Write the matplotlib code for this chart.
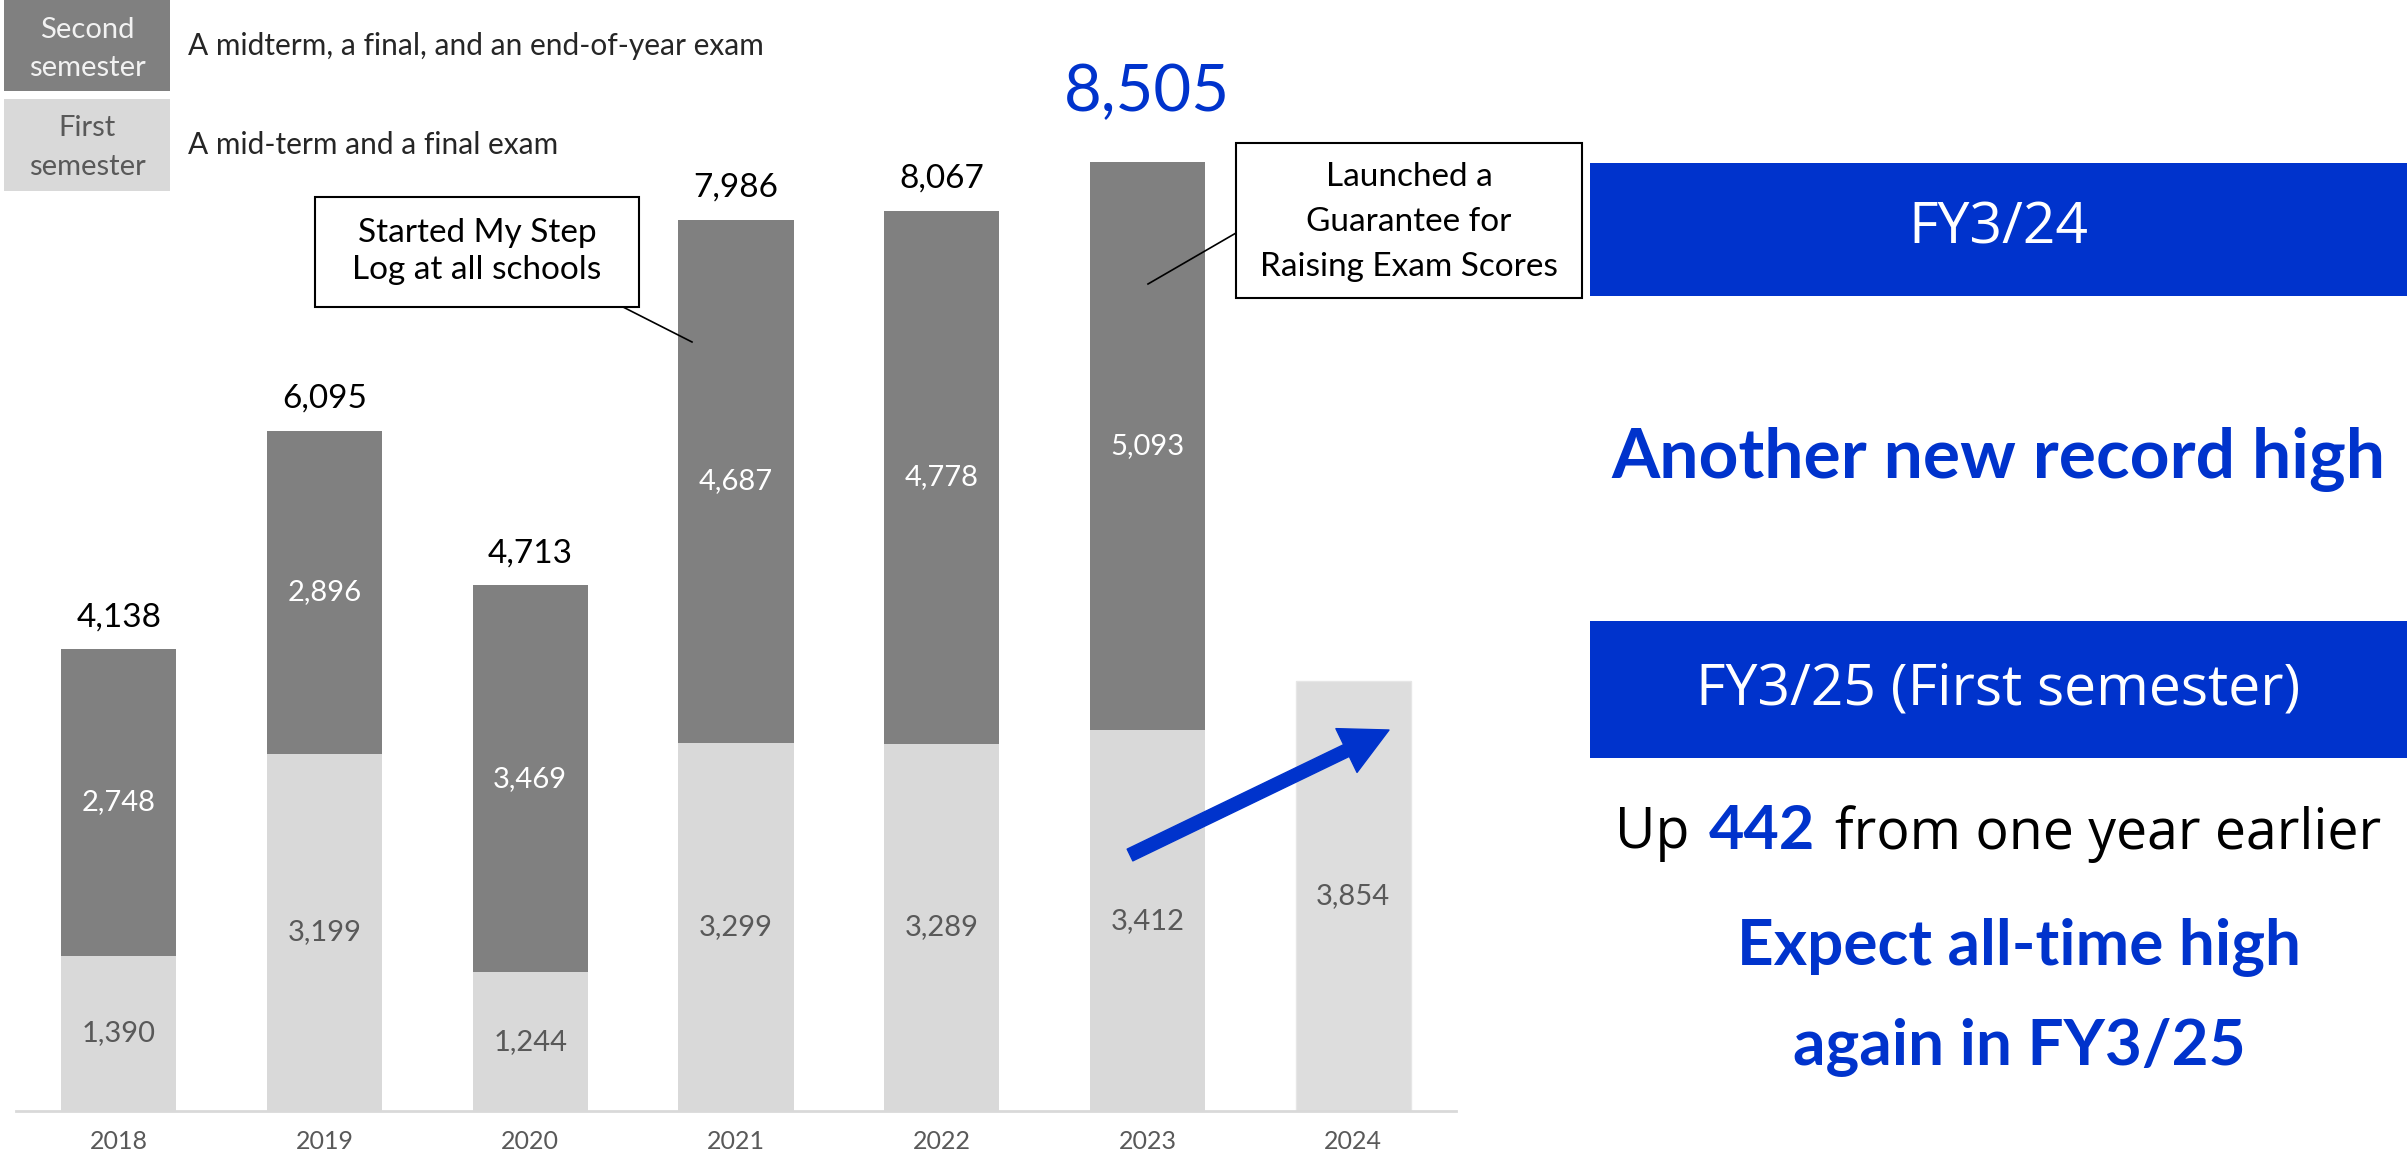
import numpy as np
import matplotlib.pyplot as plt
from matplotlib.patches import Rectangle, FancyArrowPatch
from matplotlib.lines import Line2D

# data
years = ['2018', '2019', '2020', '2021', '2022', '2023', '2024']
first_sem = [1390, 3199, 1244, 3299, 3289, 3412, 3854]
second_sem = [2748, 2896, 3469, 4687, 4778, 5093]   # 2024 only first semester
totals = [4138, 6095, 4713, 7986, 8067, 8505]

DARK = '#808080'
LIGHT = '#d9d9d9'
BLUE = '#0033cc'
TXT = '#595959'

plt.rcParams['font.family'] = ['Lato', 'DejaVu Sans']

W, H = 2407, 1161
fig = plt.figure(figsize=(W / 100, H / 100), dpi=100)


def fx(px):
    return px / W


def fy(py):
    return 1 - py / H


def ftext(px, py, s, **kw):
    kw.setdefault('ha', 'center')
    kw.setdefault('va', 'center')
    return fig.text(fx(px), fy(py), s, **kw)


def frect(x0, y0, x1, y1, **kw):
    r = Rectangle((fx(x0), fy(y1)), fx(x1) - fx(x0), fy(y0) - fy(y1),
                  transform=fig.transFigure, **kw)
    fig.add_artist(r)
    return r


# ---- bar chart ----
ax = fig.add_axes([fx(16), fy(1111), fx(1456) - fx(16), 1111 / H])
x = np.arange(len(years))
n2 = len(second_sem)
bar_w = 0.56
ax.bar(x[:n2], first_sem[:n2], width=bar_w, color=LIGHT)
ax.bar(x[n2:], first_sem[n2:], width=bar_w, color='#dddddd', edgecolor='#e6e6e6', linewidth=1)
ax.bar(x[:n2], second_sem, bottom=first_sem[:n2], width=bar_w, color=DARK)
ax.set_xlim(-0.5, 6.5)
ax.set_ylim(0, 9955)

for i, v in enumerate(first_sem):
    ax.text(i, v / 2, f'{v:,}', ha='center', va='center', color=TXT, fontsize=21)
for i, v in enumerate(second_sem):
    ax.text(i, first_sem[i] + v / 2, f'{v:,}', ha='center', va='center',
            color='white', fontsize=21)
for i, t in enumerate(totals):
    if t == max(totals):
        ax.annotate(f'{t:,}', (i, t), xytext=(0, 50), textcoords='offset points',
                    ha='center', va='center', fontsize=47, color=BLUE)
    else:
        ax.annotate(f'{t:,}', (i, t), xytext=(0, 23), textcoords='offset points',
                    ha='center', va='center', fontsize=24, color='black')

ax.set_xticks(x)
ax.set_xticklabels(years)
ax.set_yticks([])
ax.tick_params(axis='x', length=0, pad=14, labelsize=18, labelcolor=TXT)
for s in ['top', 'left', 'right']:
    ax.spines[s].set_visible(False)
ax.spines['bottom'].set_color(LIGHT)
ax.spines['bottom'].set_linewidth(2)
ax.patch.set_alpha(0)

# ---- legend (top left) ----
frect(4, 0, 170, 91, facecolor=DARK, edgecolor='none')
frect(4, 99, 170, 191, facecolor=LIGHT, edgecolor='none')
ftext(87, 30, 'Second', color='#f2f2f2', fontsize=21)
ftext(87, 68, 'semester', color='#f2f2f2', fontsize=21)
ftext(87, 128, 'First', color=TXT, fontsize=21)
ftext(87, 167, 'semester', color=TXT, fontsize=21)
ftext(188, 46, 'A midterm, a final, and an end-of-year exam', ha='left',
      color='#262626', fontsize=21.5)
ftext(188, 145, 'A mid-term and a final exam', ha='left', color='#262626', fontsize=21.5)

# ---- callouts ----
frect(315, 197, 639, 307, facecolor='white', edgecolor='black', linewidth=1.5, zorder=3)
ftext(477, 233, 'Started My Step', fontsize=24, zorder=4)
ftext(477, 270, 'Log at all schools', fontsize=24, zorder=4)
fig.add_artist(Line2D([fx(623), fx(692)], [fy(307), fy(342)], color='black', lw=1.2,
                      transform=fig.transFigure))

frect(1236, 143, 1582, 298, facecolor='white', edgecolor='black', linewidth=1.5, zorder=3)
ftext(1409, 177, 'Launched a', fontsize=24, zorder=4)
ftext(1409, 222, 'Guarantee for', fontsize=24, zorder=4)
ftext(1409, 267, 'Raising Exam Scores', fontsize=24, zorder=4)
fig.add_artist(Line2D([fx(1236), fx(1148)], [fy(233), fy(284)], color='black', lw=1.2,
                      transform=fig.transFigure))

# blue trend arrow 2023 -> 2024
arr = FancyArrowPatch((fx(1130), fy(855)), (fx(1389), fy(730)),
                      transform=fig.transFigure,
                      arrowstyle='simple,head_length=34,head_width=35,tail_width=9.4',
                      mutation_scale=1, shrinkA=0, shrinkB=0, color=BLUE, zorder=5)
fig.add_artist(arr)

# ---- right panel ----
frect(1590, 163, 2407, 296, facecolor=BLUE, edgecolor='none')
ftext(1998, 229, 'FY3/24', color='white', fontsize=41, family='Open Sans')
ftext(1998, 460, 'Another new record high', color=BLUE, fontsize=50, fontweight='bold')

frect(1590, 621, 2407, 758, facecolor=BLUE, edgecolor='none')
ftext(1998, 690, 'FY3/25 (First semester)', color='white', fontsize=41, family='Open Sans')

# "Up 442 from one year earlier" built from three pieces
renderer = fig.canvas.get_renderer()
pieces = [
    ftext(0, 834, 'Up', ha='left', fontsize=40, family='Open Sans', color='black'),
    ftext(0, 831, '442', ha='left', fontsize=44, fontweight='bold', color=BLUE),
    ftext(0, 834, 'from one year earlier', ha='left', fontsize=40, family='Open Sans',
          color='black'),
]
gap = 20
widths = [p.get_window_extent(renderer).width for p in pieces]
x0 = 1998 - (sum(widths) + gap * (len(pieces) - 1)) / 2
for p, w in zip(pieces, widths):
    p.set_x(fx(x0))
    x0 += w + gap

ftext(2019, 947, 'Expect all-time high', color=BLUE, fontsize=46, fontweight='bold')
ftext(2019, 1047, 'again in FY3/25', color=BLUE, fontsize=46, fontweight='bold')

fig.savefig('out.png', dpi=100)
